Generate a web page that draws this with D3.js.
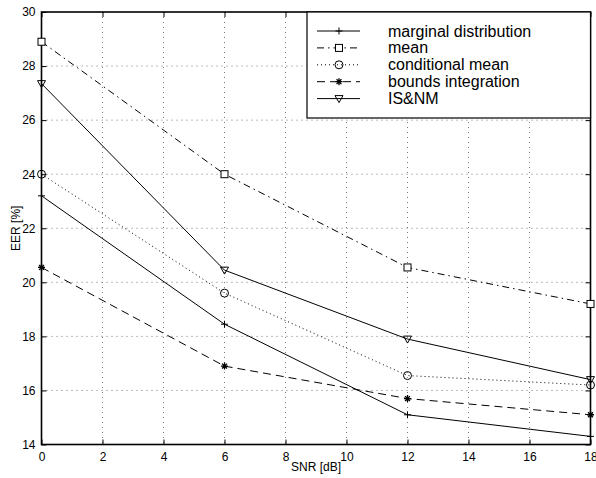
<!DOCTYPE html>
<html>
<head>
<meta charset="utf-8">
<script src="https://cdn.jsdelivr.net/npm/d3@7"></script>
<style>
  body { margin: 0; background: #fff; }
  text { font-family: "Liberation Sans", Arial, sans-serif; fill: #000; }
</style>
</head>
<body>
<div id="chart"></div>
<script>
// data
var snr = [0, 6, 12, 18];
var marginal = [23.2, 18.45, 15.1, 14.3];
var meanVals = [28.9, 24.0, 20.55, 19.2];
var condMean = [24.0, 19.6, 16.55, 16.2];
var bounds = [20.55, 16.9, 15.7, 15.1];
var isnm = [27.35, 20.45, 17.9, 16.4];
var xTicks = [0, 2, 4, 6, 8, 10, 12, 14, 16, 18];
var yTicks = [14, 16, 18, 20, 22, 24, 26, 28, 30];

var series = [
    {name: 'marginal distribution', values: marginal, dash: null, marker: 'plus'},
    {name: 'mean', values: meanVals, dash: '7,4,1.5,4', marker: 'square'},
    {name: 'conditional mean', values: condMean, dash: '1,3', marker: 'circle'},
    {name: 'bounds integration', values: bounds, dash: '8,5', marker: 'star'},
    {name: 'IS&NM', values: isnm, dash: null, marker: 'tri'}
];

var width = 596, height = 478;
var pLeft = 41.5, pRight = 590.5, pTop = 12, pBottom = 444.5;

var svg = d3.select('#chart').append('svg')
    .attr('width', width)
    .attr('height', height);

var x = d3.scaleLinear().domain([0, 18]).range([pLeft, pRight]);
var y = d3.scaleLinear().domain([14, 30]).range([pBottom, pTop]);

// grid
var grid = svg.append('g')
    .attr('stroke', '#555')
    .attr('stroke-width', 0.8)
    .attr('stroke-dasharray', '1,4');
grid.selectAll('.gx')
    .data(xTicks.slice(1, -1))
    .enter().append('line')
    .attr('x1', function (d) { return x(d); })
    .attr('x2', function (d) { return x(d); })
    .attr('y1', pTop).attr('y2', pBottom);
grid.selectAll('.gy')
    .data(yTicks.slice(1, -1))
    .enter().append('line')
    .attr('y1', function (d) { return y(d); })
    .attr('y2', function (d) { return y(d); })
    .attr('x1', pLeft).attr('x2', pRight);

// axes (ticks point inward, box on all sides)
var tickLen = 5;
svg.append('g')
    .attr('transform', 'translate(0,' + pBottom + ')')
    .call(d3.axisBottom(x).tickValues(xTicks).tickSizeInner(-tickLen).tickSizeOuter(0).tickPadding(8))
    .call(function (g) { g.select('.domain').remove(); });
svg.append('g')
    .attr('transform', 'translate(0,' + pTop + ')')
    .call(d3.axisTop(x).tickValues(xTicks).tickSizeInner(-tickLen).tickSizeOuter(0).tickFormat(''))
    .call(function (g) { g.select('.domain').remove(); });
svg.append('g')
    .attr('transform', 'translate(' + pLeft + ',0)')
    .call(d3.axisLeft(y).tickValues(yTicks).tickSizeInner(-tickLen).tickSizeOuter(0).tickPadding(6))
    .call(function (g) { g.select('.domain').remove(); });
svg.append('g')
    .attr('transform', 'translate(' + pRight + ',0)')
    .call(d3.axisRight(y).tickValues(yTicks).tickSizeInner(-tickLen).tickSizeOuter(0).tickFormat(''))
    .call(function (g) { g.select('.domain').remove(); });
svg.selectAll('.tick text').attr('font-size', 12).attr('font-family', '"Liberation Sans", Arial, sans-serif');
svg.selectAll('.tick line').attr('stroke', '#000');

svg.append('rect')
    .attr('x', pLeft).attr('y', pTop)
    .attr('width', pRight - pLeft).attr('height', pBottom - pTop)
    .attr('fill', 'none').attr('stroke', '#000').attr('stroke-width', 1.6);

// axis labels
svg.append('text')
    .attr('x', (pLeft + pRight) / 2).attr('y', 471)
    .attr('text-anchor', 'middle').attr('font-size', 12)
    .text('SNR [dB]');
svg.append('text')
    .attr('transform', 'translate(20,' + ((pTop + pBottom) / 2) + ') rotate(-90)')
    .attr('text-anchor', 'middle').attr('font-size', 12)
    .text('EER [%]');

function drawMarker(g, type, cx, cy) {
    var s = 3.5;
    var m = g.append('g').attr('transform', 'translate(' + cx + ',' + cy + ')')
        .attr('stroke', '#000').attr('stroke-width', 1).attr('fill', 'none');
    if (type === 'plus') {
        m.append('path').attr('d', 'M' + (-s) + ',0H' + s + 'M0,' + (-s) + 'V' + s);
    } else if (type === 'square') {
        m.append('rect').attr('x', -s).attr('y', -s).attr('width', 2 * s).attr('height', 2 * s).attr('fill', '#fff');
    } else if (type === 'circle') {
        m.append('circle').attr('r', s + 0.5).attr('fill', 'none');
    } else if (type === 'star') {
        m.append('path').attr('d', 'M' + (-s) + ',0H' + s + 'M0,' + (-s) + 'V' + s +
            'M' + (-s * 0.7) + ',' + (-s * 0.7) + 'L' + (s * 0.7) + ',' + (s * 0.7) +
            'M' + (-s * 0.7) + ',' + (s * 0.7) + 'L' + (s * 0.7) + ',' + (-s * 0.7))
            .attr('stroke-width', 1.3);
    } else if (type === 'tri') {
        m.append('path').attr('d', 'M' + (-s - 0.5) + ',' + (-s + 0.5) + 'L' + (s + 0.5) + ',' + (-s + 0.5) + 'L0,' + (s + 0.5) + 'Z')
            .attr('fill', 'none');
    }
}

var line = d3.line()
    .x(function (d, i) { return x(snr[i]); })
    .y(function (d) { return y(d); });

series.forEach(function (s) {
    var g = svg.append('g');
    g.append('path')
        .attr('d', line(s.values))
        .attr('fill', 'none')
        .attr('stroke', '#000')
        .attr('stroke-width', 1)
        .attr('stroke-dasharray', s.dash);
    s.values.forEach(function (v, i) {
        drawMarker(g, s.marker, x(snr[i]), y(v));
    });
});

// legend
var lg = svg.append('g');
lg.append('rect')
    .attr('x', 307).attr('y', pTop)
    .attr('width', pRight - 307).attr('height', 106)
    .attr('fill', '#fff').attr('stroke', '#000').attr('stroke-width', 1.2);
series.forEach(function (s, i) {
    var ly = 31 + i * 16.9;
    lg.append('line')
        .attr('x1', 317).attr('x2', 360)
        .attr('y1', ly).attr('y2', ly)
        .attr('stroke', '#000').attr('stroke-width', 1)
        .attr('stroke-dasharray', s.dash);
    drawMarker(lg, s.marker, 339, ly);
    lg.append('text')
        .attr('x', 388).attr('y', ly + 5.5)
        .attr('font-size', 16)
        .text(s.name);
});
</script>
</body>
</html>
